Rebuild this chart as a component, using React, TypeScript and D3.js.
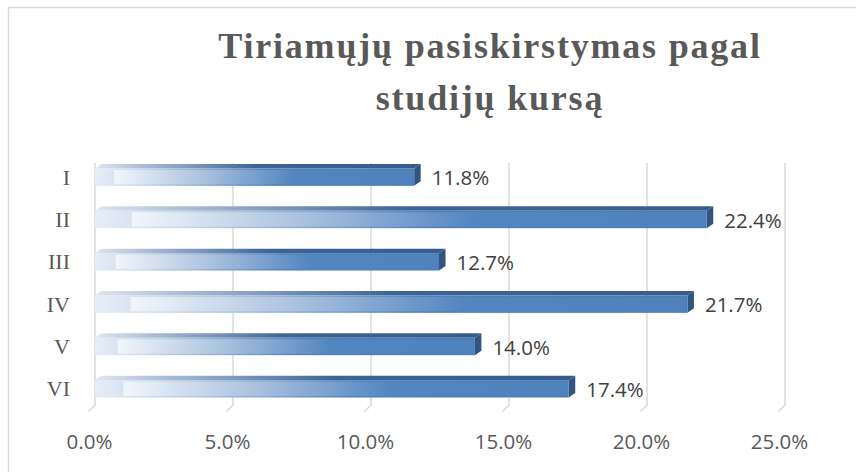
import React from 'react';
import * as d3 from 'd3';

// course year vs share of respondents (%)
const categories = ['I', 'II', 'III', 'IV', 'V', 'VI'];
const values = [11.8, 22.4, 12.7, 21.7, 14.0, 17.4];
const ticks = [0, 5, 10, 15, 20, 25];
const titleLines = ['Tiriamųjų pasiskirstymas pagal', 'studijų kursą'];

const W = 856;
const H = 472;
// 3D depth of the bars / floor
const DX = 6.5;
const DY = 4.5;

export default function App() {
  const x = d3.scaleLinear().domain([0, 25]).range([95, 785]);
  const y = d3
    .scaleBand<string>()
    .domain(categories)
    .range([156, 410])
    .paddingInner(0.59)
    .paddingOuter(0.295);
  const bw = y.bandwidth();
  const gridTop = 163;
  const gridBottom = 405;

  return (
    <div style={{ position: 'absolute', left: 0, top: 0, width: W, height: H, background: '#fff' }}>
      <svg width={W} height={H} style={{ display: 'block' }}>
        <defs>
          <linearGradient id="front" x1="0" x2="1" y1="0" y2="0">
            <stop offset="0" stopColor="#e6edf6" />
            <stop offset="0.12" stopColor="#cddbec" />
            <stop offset="0.55" stopColor="#4f81bd" />
            <stop offset="1" stopColor="#4a7cb9" />
          </linearGradient>
          <linearGradient id="inner" x1="0" x2="1" y1="0" y2="0">
            <stop offset="0" stopColor="#f2f6fb" />
            <stop offset="0.3" stopColor="#a9c1de" />
            <stop offset="0.6" stopColor="#5385c0" />
            <stop offset="1" stopColor="#4f81bd" />
          </linearGradient>
          <linearGradient id="top" x1="0" x2="1" y1="0" y2="0">
            <stop offset="0" stopColor="#dfe6ef" />
            <stop offset="0.15" stopColor="#a9bcd4" />
            <stop offset="0.5" stopColor="#3d6495" />
            <stop offset="1" stopColor="#385d8c" />
          </linearGradient>
        </defs>

        <rect x={8.5} y={7.5} width={W + 20} height={H + 20} fill="#fff" stroke="#d9d9d9" strokeWidth={1.5} />

        {/* title */}
        <g fill="#595959" fontFamily="'Liberation Serif', 'Times New Roman', serif" fontWeight="bold" fontSize={36} textAnchor="middle" letterSpacing={1.8}>
          {titleLines.map((t, i) => (
            <text key={t} x={490} y={58 + i * 52}>
              {t}
            </text>
          ))}
        </g>

        {/* back wall gridlines with floor feet */}
        <g stroke="#d9d9d9" strokeWidth={1.5} fill="none">
          {ticks.map((t) => (
            <path key={t} d={`M${x(t)},${gridTop}V${gridBottom}L${x(t) - DX},${gridBottom + DY + 2}`} />
          ))}
        </g>

        {/* bars */}
        {categories.map((c, i) => {
          const x0 = x(0);
          const xf = x(values[i]) - DX;
          const yt = y(c) ?? 0;
          const yb = yt + bw;
          const len = xf - x0;
          return (
            <g key={c}>
              <path
                d={`M${x0},${yt}L${xf},${yt}L${xf + DX},${yt - DY}L${x0 + DX},${yt - DY}Z`}
                fill="url(#top)"
              />
              <path
                d={`M${xf},${yt}L${xf + DX},${yt - DY}L${xf + DX},${yb - DY}L${xf},${yb}Z`}
                fill="#32547f"
              />
              <rect x={x0} y={yt} width={len} height={bw} fill="url(#front)" />
              <rect x={x0 + len * 0.06} y={yt + 1.5} width={len * 0.94 - 1} height={bw - 3} fill="url(#inner)" />
            </g>
          );
        })}

        {/* data labels */}
        <g fill="#404040" fontFamily="'Open Sans', sans-serif" fontSize={20.5}>
          {categories.map((c, i) => (
            <text key={c} x={x(values[i]) + 11} y={(y(c) ?? 0) + bw / 2 + 8}>
              {values[i].toFixed(1)}%
            </text>
          ))}
        </g>

        {/* category labels */}
        <g fill="#595959" fontFamily="'Liberation Serif', 'Times New Roman', serif" fontSize={22} textAnchor="end">
          {categories.map((c) => (
            <text key={c} x={70} y={(y(c) ?? 0) + bw / 2 + 7.5}>
              {c}
            </text>
          ))}
        </g>

        {/* x tick labels */}
        <g fill="#595959" fontFamily="'Open Sans', sans-serif" fontSize={20.5} textAnchor="middle">
          {ticks.map((t) => (
            <text key={t} x={x(t) - DX + 1} y={449}>
              {t.toFixed(1)}%
            </text>
          ))}
        </g>
      </svg>
    </div>
  );
}
